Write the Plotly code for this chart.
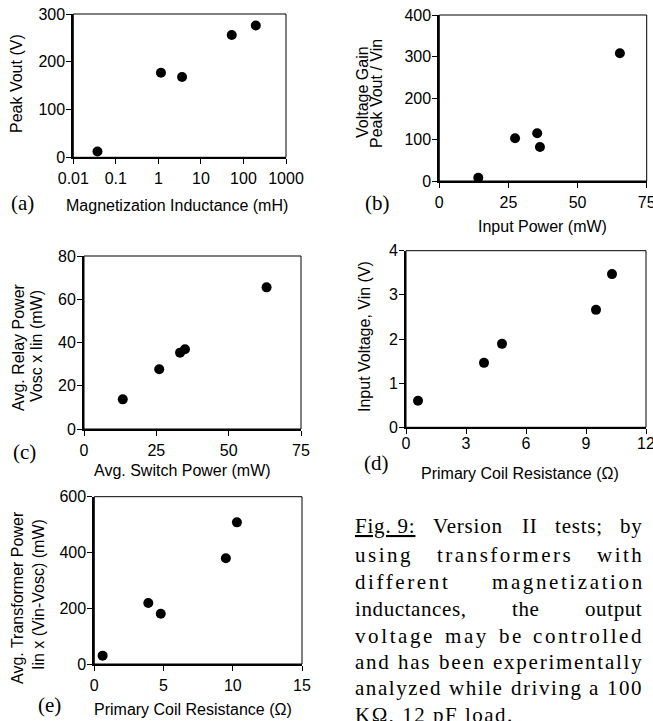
import plotly.graph_objects as go

W, H = 653, 721

# ---------------- data ----------------
a_inductance_mH = [0.037, 1.15, 3.6, 53, 195]
a_peak_vout_V = [12, 177, 168, 256, 276]

b_input_power_mW = [14.1, 27.4, 35.4, 36.4, 65.3]
b_voltage_gain = [8, 103, 115, 82, 308]

c_switch_power_mW = [13.4, 26.0, 33.2, 34.9, 63.1]
c_relay_power_mW = [13.7, 27.6, 35.3, 36.9, 65.5]

d_coil_resistance_ohm = [0.6, 3.9, 4.8, 9.5, 10.3]
d_input_voltage_V = [0.6, 1.46, 1.89, 2.66, 3.47]

e_coil_resistance_ohm = [0.6, 3.9, 4.8, 9.5, 10.3]
e_transformer_power_mW = [30, 219, 180, 379, 508]

a_tickvals = [0.01, 0.1, 1, 10, 100, 1000]
a_ticktext = ["0.01", "0.1", "1", "10", "100", "1000"]

caption_lines = [
    ["Fig. 9:", "Version", "II", "tests;", "by"],
    ["using", "transformers", "with"],
    ["different", "magnetization"],
    ["inductances,", "the", "output"],
    ["voltage", "may", "be", "controlled"],
    ["and", "has", "been", "experimentally"],
    ["analyzed", "while", "driving", "a", "100"],
]
caption_last = "KΩ, 12 pF load."

# ---------------- layout helpers ----------------
def xp(px):
    return px / W

def yp(py):
    return 1 - py / H

SANS = "Liberation Sans, Arial, sans-serif"
SERIF = "Liberation Serif, Times New Roman, serif"

# Times advance widths (1/1000 em) for caption justification
TIMES = {' ': 250, '.': 250, ',': 250, ':': 278, ';': 278, '(': 333, ')': 333,
         'a': 444, 'b': 500, 'c': 444, 'd': 500, 'e': 444, 'f': 333, 'g': 500,
         'h': 500, 'i': 278, 'l': 278, 'm': 778, 'n': 500, 'o': 500, 'p': 500,
         'r': 333, 's': 389, 't': 278, 'u': 500, 'v': 500, 'w': 722, 'x': 500,
         'y': 500, 'z': 444, 'F': 556, 'I': 333, 'V': 722, 'K': 722}

def tw(s, size, ls=0.0):
    return sum(TIMES.get(ch, 500) for ch in s) * size / 1000.0 + ls * len(s)

fig = go.Figure()

# panel boxes in pixels: (left, right, top, bottom)
boxes = {
    "a": (73.3, 286, 14, 157.3),
    "b": (439.3, 646.7, 15, 181),
    "c": (84, 301, 256, 429),
    "d": (406, 646, 250.7, 427.3),
    "e": (94.3, 302, 496.7, 664),
}

panels = [
    ("a", a_inductance_mH, a_peak_vout_V),
    ("b", b_input_power_mW, b_voltage_gain),
    ("c", c_switch_power_mW, c_relay_power_mW),
    ("d", d_coil_resistance_ohm, d_input_voltage_V),
    ("e", e_coil_resistance_ohm, e_transformer_power_mW),
]

axis_common = dict(
    showline=True, linecolor="black", linewidth=2, mirror=False,
    ticks="outside", ticklen=5, tickwidth=1, tickcolor="black",
    showgrid=False, zeroline=False, automargin=False,
    ticklabeloverflow="allow",
    tickfont=dict(family=SANS, size=16, color="black"),
)

xcfg = {
    "a": dict(type="log", range=[-2, 3], tickvals=a_tickvals, ticktext=a_ticktext),
    "b": dict(range=[0, 75], dtick=25, tick0=0),
    "c": dict(range=[0, 75], dtick=25, tick0=0),
    "d": dict(range=[0, 12], dtick=3, tick0=0),
    "e": dict(range=[0, 15], dtick=5, tick0=0),
}
ycfg = {
    "a": dict(range=[0, 300], dtick=100, tick0=0),
    "b": dict(range=[0, 400], dtick=100, tick0=0),
    "c": dict(range=[0, 80], dtick=20, tick0=0),
    "d": dict(range=[0, 4], dtick=1, tick0=0),
    "e": dict(range=[0, 600], dtick=200, tick0=0),
}
xstand = {"a": 0, "b": 1, "c": 1, "d": -5, "e": 1}

for i, (key, xs, ys) in enumerate(panels, start=1):
    sfx = "" if i == 1 else str(i)
    l, r, t, b = boxes[key]
    fig.add_trace(go.Scatter(
        x=xs, y=ys, mode="markers",
        marker=dict(size=10, color="black"),
        xaxis="x" + sfx, yaxis="y" + sfx, showlegend=False, cliponaxis=False,
    ))
    fig.update_layout(**{
        "xaxis" + sfx: dict(axis_common, domain=[xp(l), xp(r)], anchor="y" + sfx,
                            ticklabelstandoff=xstand[key], **xcfg[key]),
        "yaxis" + sfx: dict(axis_common, domain=[yp(b), yp(t)], anchor="x" + sfx,
                            ticklabelstandoff=-2, **ycfg[key]),
    })
    fig.add_shape(type="rect", xref="x" + sfx + " domain", yref="y" + sfx + " domain",
                  x0=0, x1=1, y0=0, y1=1, line=dict(color="black", width=1), layer="below")

ann = []

def text(px, py, s, size=16, family=SANS, angle=0, xanchor="center"):
    ann.append(dict(x=xp(px), y=yp(py), xref="paper", yref="paper", text=s,
                    showarrow=False, textangle=angle, xanchor=xanchor, yanchor="middle",
                    font=dict(family=family, size=size, color="black")))

# x-axis titles
text(177, 205, "Magnetization Inductance (mH)")
text(542, 226, "Input Power (mW)")
text(182, 470, "Avg. Switch Power (mW)")
text(520, 473, "Primary Coil Resistance (Ω)")
text(193, 709, "Primary Coil Resistance (Ω)")

# y-axis titles
text(17, 84, "Peak Vout (V)", angle=-90)
text(363, 92, "Voltage Gain", angle=-90)
text(377, 94, "Peak Vout / Vin", angle=-90)
text(18, 347, "Avg. Relay Power", angle=-90)
text(36, 346, "Vosc x Iin (mW)", angle=-90)
text(364, 337, "Input Voltage, Vin (V)", angle=-90)
text(17, 598, "Avg. Transformer Power", angle=-90)
text(38, 595, "Iin x (Vin-Vosc) (mW)", angle=-90)

# panel labels
for lab, px, py in [("(a)", 22, 203), ("(b)", 377, 203), ("(c)", 24, 452),
                    ("(d)", 376, 463), ("(e)", 49, 705)]:
    text(px, py, lab, size=21, family=SERIF)

# caption, fully justified between two edges, with per-line letter spacing
CAP_L, CAP_R, CAP_SIZE = 353, 640, 21
line_y = [526, 555, 582, 609, 636, 662, 688]
line_ls = [0.8, 2.5, 2.6, 0.6, 2.6, 1.75, 1.55]

def styled(word, ls):
    inner = "<u>" + word + "</u>" if word == "Fig. 9:" else word
    return "<span style='letter-spacing:%.2fpx'>%s</span>" % (ls, inner)

for words, ly, ls in zip(caption_lines, line_y, line_ls):
    widths = [tw(w_, CAP_SIZE, ls) for w_ in words]
    gap = (CAP_R - CAP_L - sum(widths) + ls) / (len(words) - 1)
    x = CAP_L
    for w_, wd in zip(words, widths):
        text(x, ly, styled(w_, ls), size=CAP_SIZE, family=SERIF, xanchor="left")
        x += wd + gap
text(CAP_L, 715, styled(caption_last, 1.5), size=CAP_SIZE, family=SERIF, xanchor="left")

fig.update_layout(
    annotations=ann,
    width=W, height=H,
    margin=dict(l=0, r=0, t=0, b=0, pad=0, autoexpand=False),
    paper_bgcolor="white", plot_bgcolor="white",
    showlegend=False,
)

fig.write_html("out.html", config={"displayModeBar": False},
               post_script="document.body.style.margin='0px';")
